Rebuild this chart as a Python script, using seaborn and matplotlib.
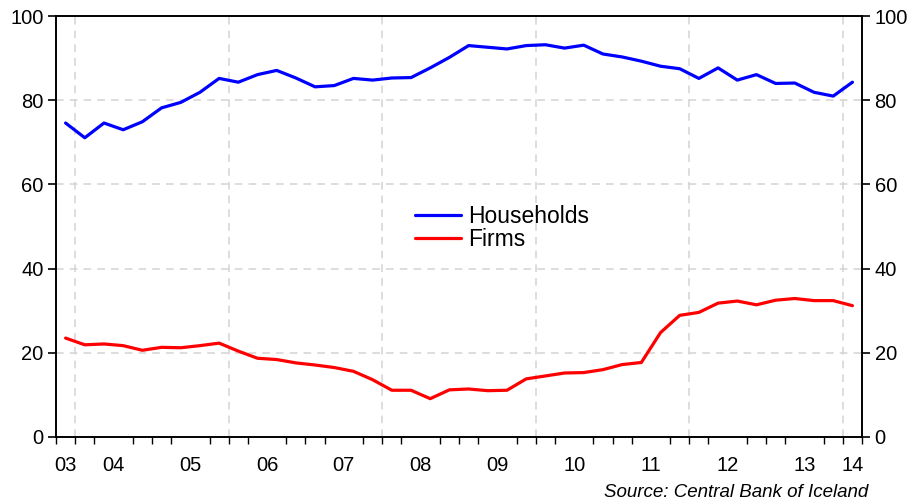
import numpy as np
import pandas as pd
import matplotlib
matplotlib.use("Agg")
import matplotlib.pyplot as plt
import seaborn as sns

# quarterly shares, 2003Q4 - 2014Q1
start_quarter = "2003Q4"
households = [74.6, 71.1, 74.6, 73.0, 74.9, 78.2, 79.5, 81.9, 85.2, 84.3, 86.1,
              87.1, 85.3, 83.2, 83.5, 85.2, 84.8, 85.3, 85.4, 87.7, 90.2, 93.0,
              92.6, 92.2, 93.0, 93.2, 92.4, 93.1, 91.0, 90.3, 89.3, 88.1, 87.5,
              85.2, 87.7, 84.8, 86.1, 84.0, 84.1, 81.9, 81.0, 84.3]
firms = [23.5, 21.9, 22.1, 21.7, 20.6, 21.3, 21.2, 21.7, 22.3, 20.4, 18.7,
         18.4, 17.6, 17.1, 16.5, 15.6, 13.6, 11.1, 11.1, 9.1, 11.2, 11.4,
         11.0, 11.1, 13.8, 14.5, 15.2, 15.3, 16.0, 17.2, 17.7, 24.8, 28.9,
         29.6, 31.8, 32.3, 31.4, 32.5, 32.9, 32.4, 32.4, 31.2]
series_names = ["Households", "Firms"]
series_colors = ["#0000ff", "#ff0000"]
year_labels = ["03", "04", "05", "06", "07", "08", "09", "10", "11", "12", "13", "14"]
y_ticks = [0, 20, 40, 60, 80, 100]
source_text = "Source: Central Bank of Iceland"

periods = pd.period_range(start_quarter, periods=len(households), freq="Q")
x = periods.year + (periods.quarter - 0.5) / 4
df = pd.DataFrame({"x": np.tile(x, 2),
                   "value": households + firms,
                   "series": np.repeat(series_names, len(households))})

sns.set_style("white")
plt.rcParams["font.family"] = ["Liberation Sans", "DejaVu Sans"]
plt.rcParams["text.color"] = "black"
plt.rcParams["xtick.color"] = "black"
plt.rcParams["ytick.color"] = "black"

fig = plt.figure(figsize=(9.12, 5.04), dpi=100)
ax = fig.add_axes([0.0614, 0.133, 0.8838, 0.835])

x_lo = periods[0].year + (periods[0].quarter - 1) / 4
x_hi = periods[-1].year + periods[-1].quarter / 4

for yr in range(2004, int(x_hi) + 1, 2):
    ax.axvline(yr, color="#d3d3d3", lw=1.1, ls=(0, (5, 4)), zorder=0)
for v in y_ticks[1:-1]:
    ax.axhline(v, color="#d3d3d3", lw=1.1, ls=(0, (5, 4)), zorder=0)

sns.lineplot(data=df, x="x", y="value", hue="series", palette=series_colors,
             linewidth=2.3, ax=ax, legend=False)

ax.set_xlim(x_lo, x_hi)
ax.set_ylim(0, 100)
ax.set_xlabel("")
ax.set_ylabel("")

# year labels centred in each (visible part of a) year
first_year = periods[0].year
label_pos = []
for i, lab in enumerate(year_labels):
    yr = first_year + i
    a, b = max(yr, x_lo), min(yr + 1, x_hi)
    label_pos.append((a + b) / 2)
ax.set_xticks(label_pos)
ax.set_xticklabels(year_labels)
ax.set_xticks(np.arange(x_lo, x_hi + 0.01, 0.25), minor=True)
ax.tick_params(axis="x", which="major", length=0, labelsize=14.5, pad=14)
ax.tick_params(axis="x", which="minor", length=5, width=1, direction="out", bottom=True)

ax.set_yticks(y_ticks)
ax.tick_params(axis="y", which="major", length=6, width=1.2, direction="out",
               left=True, labelsize=14.5, pad=3)

ax2 = ax.twinx()
ax2.set_ylim(0, 100)
ax2.set_yticks(y_ticks)
ax2.tick_params(axis="y", length=6, width=1.2, direction="out", right=True,
                labelsize=14.5, pad=3)

for a in (ax, ax2):
    for s in a.spines.values():
        s.set_color("black")
        s.set_linewidth(1.2)

handles = [plt.Line2D([], [], color=c, lw=2.3) for c in series_colors]
ax.legend(handles, series_names, loc="upper left", bbox_to_anchor=(0.434, 0.574),
          frameon=False, fontsize=16.5, handlelength=2.0, handletextpad=0.3,
          labelspacing=0.02, borderaxespad=0)

fig.text(0.952, 0.005, source_text, ha="right", va="bottom", fontsize=13.5,
         style="italic")

fig.savefig("out.png", dpi=100)
